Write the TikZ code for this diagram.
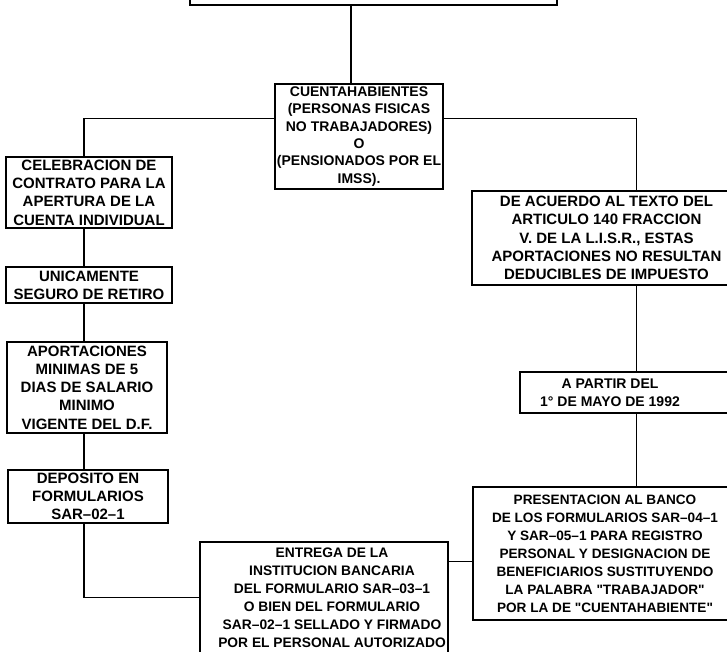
\documentclass[tikz,border=0pt]{standalone}
\usepackage{fontspec}
\newfontfamily\boxfont{Liberation Sans}
\usetikzlibrary{calc}
\tikzset{
  box/.style={draw, line width=1.4pt, fill=white, inner sep=0pt, align=center,
    font=\boxfont\fontsize{14}{18}\selectfont\bfseries},
  wide/.style={font=\boxfont\fontsize{15}{18.3}\selectfont\bfseries},
  txt/.style={inner sep=0pt, align=center, font=\boxfont\fontsize{14}{18}\selectfont\bfseries},
  link/.style={line width=1.4pt},
}
\begin{document}
\begin{tikzpicture}[x=1pt,y=-1pt]
\useasboundingbox (0,0) rectangle (727,651);
\clip (0,0) rectangle (727,651);

% heading box, running off the top edge
\node[box, minimum width=367pt, minimum height=45pt] (top) at (373.5,-17.5) {};

% centre box
\node[box, minimum width=168pt, minimum height=105pt,
  font=\boxfont\fontsize{14}{17.3}\selectfont\bfseries] (mid) at (359,136.5)
  {CUENTAHABIENTES\\(PERSONAS FISICAS\\NO TRABAJADORES)\\O\\(PENSIONADOS POR EL\\IMSS).};

% left column
\node[box, wide, minimum width=166pt, minimum height=71pt] (L1) at (89,192.5)
  {CELEBRACION DE\\CONTRATO PARA LA\\APERTURA DE LA\\CUENTA INDIVIDUAL};
\node[box, wide, minimum width=166pt, minimum height=36pt] (L2) at (89,285)
  {UNICAMENTE\\SEGURO DE RETIRO};
\node[box, wide, minimum width=160pt, minimum height=91pt] (L3) at (87,387.5)
  {APORTACIONES\\MINIMAS DE 5\\DIAS DE SALARIO\\MINIMO\\VIGENTE DEL D.F.};
\node[box, wide, minimum width=160pt, minimum height=53pt] (L4) at (88,496.5)
  {DEPOSITO EN\\FORMULARIOS\\SAR–02–1};

% bottom box
\node[box, minimum width=248pt, minimum height=111pt] (B5) at (324,597.5) {};
\node[txt, font=\boxfont\fontsize{13.8}{18}\selectfont\bfseries] (B5t) at (332,597.5)
  {ENTREGA DE LA\\INSTITUCION BANCARIA\\DEL FORMULARIO SAR–03–1\\O BIEN DEL FORMULARIO\\SAR–02–1 SELLADO Y FIRMADO\\POR EL PERSONAL AUTORIZADO};

% right column, running off the right edge
\node[box, wide, minimum width=269pt, minimum height=94pt] (R1) at (606.5,238)
  {DE ACUERDO AL TEXTO DEL\\ARTICULO 140 FRACCION\\V. DE LA L.I.S.R., ESTAS\\APORTACIONES NO RESULTAN\\DEDUCIBLES DE IMPUESTO};
\node[box, minimum width=209pt, minimum height=41pt] (R2) at (624.5,392.5) {};
\node[txt] (R2t) at (610,393) {A PARTIR DEL\\1° DE MAYO DE 1992};
\node[box, font=\boxfont\fontsize{13.6}{18}\selectfont\bfseries,
  minimum width=264pt, minimum height=133pt] (R3) at (605,553.5)
  {PRESENTACION AL BANCO\\DE LOS FORMULARIOS SAR–04–1\\Y SAR–05–1 PARA REGISTRO\\PERSONAL Y DESIGNACION DE\\BENEFICIARIOS SUSTITUYENDO\\LA PALABRA "TRABAJADOR"\\POR LA DE "CUENTAHABIENTE"};

% connectors
\coordinate (tc) at ($(mid.north)+(-8,0)$);
\coordinate (jl) at ($(mid.north west)+(0,35)$);
\coordinate (jr) at ($(mid.north east)+(0,35)$);
\coordinate (lc) at ($(L1.north)+(-5,0)$);
\coordinate (rc) at ($(R1.north)+(30,0)$);
\coordinate (jb) at ($(R3.west)+(0,8)$);
\draw[link] (tc) -- (tc |- top.south);
\draw[link] (jl) -| (lc);
\draw[link] (jr) -| (rc);
\draw[link] (lc |- L1.south) -- (lc |- L2.north);
\draw[link] (lc |- L2.south) -- (lc |- L3.north);
\draw[link] (lc |- L3.south) -- (lc |- L4.north);
\draw[link] (lc |- L4.south) |- (B5.west);
\draw[link] (rc |- R1.south) -- (rc |- R2.north);
\draw[link] (rc |- R2.south) -- (rc |- R3.north);
\draw[link] (jb) -- (jb -| B5.east);
\end{tikzpicture}
\end{document}
